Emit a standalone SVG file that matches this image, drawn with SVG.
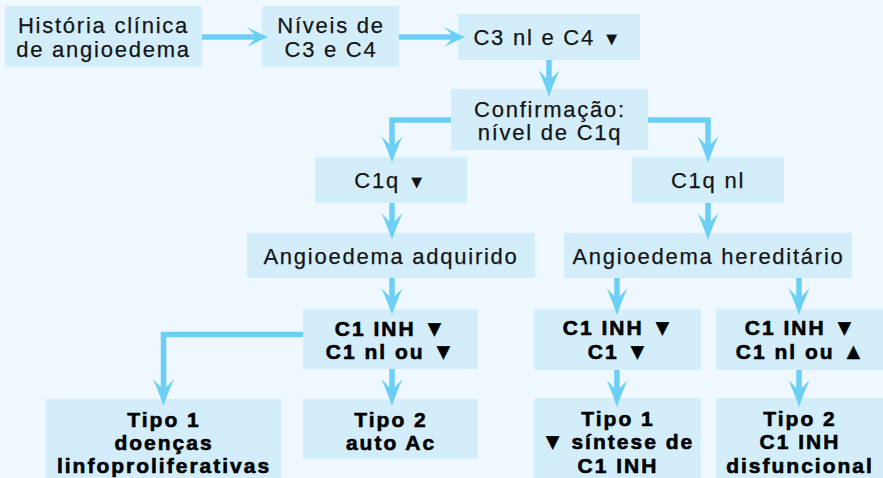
<svg xmlns="http://www.w3.org/2000/svg" width="883" height="478" viewBox="0 0 883 478">
<style>
.bg{fill:#EEF8FE}
.box{fill:#D3EEFA}
.t{font-family:"Liberation Sans",Arial,sans-serif;font-size:22px;letter-spacing:1.75px;fill:#141414;text-anchor:middle;stroke:#141414;stroke-width:0.25px}
.b{font-family:"Liberation Sans",Arial,sans-serif;font-size:21px;font-weight:bold;letter-spacing:2px;fill:#000;text-anchor:middle;stroke:#000;stroke-width:0.6px}
.tr{font-size:18px;letter-spacing:0}
.trb{font-size:22px;letter-spacing:0}
.c{fill:none;stroke:#6CCFF6;stroke-width:5.5;stroke-linejoin:miter}
.cv{marker-end:url(#av)}
.ch{marker-end:url(#ah)}
</style>
<defs>
<marker id="av" markerUnits="userSpaceOnUse" viewBox="-28 -12 30 24" markerWidth="30" markerHeight="24" refX="-18" refY="0" orient="auto" overflow="visible">
<path d="M0,0 Q-12,-4 -27,-10.5 Q-21,-5 -19,-2.75 L-19,2.75 Q-21,5 -27,10.5 Q-12,4 0,0 Z" fill="#6CCFF6"/>
</marker>
<marker id="ah" markerUnits="userSpaceOnUse" viewBox="-22 -12 24 24" markerWidth="24" markerHeight="24" refX="-13" refY="0" orient="auto" overflow="visible">
<path d="M0,0 Q-9,-4 -21,-10 Q-16,-5 -14,-2.75 L-14,2.75 Q-16,5 -21,10 Q-9,4 0,0 Z" fill="#6CCFF6"/>
</marker>
</defs>
<rect class="bg" x="0" y="0" width="883" height="478"/>

<g id="n1"><rect class="box" x="5" y="6" width="197" height="61"/>
<text class="t" x="103.5" y="33">História clínica</text><text class="t" x="103.5" y="57">de angioedema</text></g>
<g id="n2"><rect class="box" x="262" y="6" width="137" height="61"/>
<text class="t" x="331" y="33">Níveis de</text><text class="t" x="331" y="57">C3 e C4</text></g>
<g id="n3"><rect class="box" x="458" y="14" width="182" height="46"/>
<text class="t" x="547" y="45">C3 nl e C4 <tspan class="tr">▼</tspan></text></g>
<g id="n4"><rect class="box" x="451" y="89" width="197" height="61"/>
<text class="t" x="550" y="117">Confirmação:</text><text class="t" x="550" y="140">nível de C1q</text></g>
<g id="n5"><rect class="box" x="315" y="157" width="152" height="46"/>
<text class="t" x="390" y="188">C1q <tspan class="tr">▼</tspan></text></g>
<g id="n6"><rect class="box" x="632" y="157" width="152" height="46"/>
<text class="t" x="708" y="188">C1q nl</text></g>
<g id="n7"><rect class="box" x="247" y="233" width="288" height="45"/>
<text class="t" x="391" y="264">Angioedema adquirido</text></g>
<g id="n8"><rect class="box" x="564" y="233" width="288" height="45"/>
<text class="t" x="708.5" y="264">Angioedema hereditário</text></g>
<g id="n9"><rect class="box" x="303" y="309" width="175" height="60"/>
<text class="b" x="390" y="336">C1 INH <tspan class="trb">▼</tspan></text><text class="b" x="390" y="359">C1 nl ou <tspan class="trb">▼</tspan></text></g>
<g id="n10"><rect class="box" x="46" y="399" width="235" height="79"/>
<text class="b" x="164" y="427">Tipo 1</text><text class="b" x="164" y="450">doenças</text><text class="b" x="164" y="473">linfoproliferativas</text></g>
<g id="n11"><rect class="box" x="303" y="399" width="175" height="60"/>
<text class="b" x="391" y="427">Tipo 2</text><text class="b" x="391" y="450">auto Ac</text></g>
<g id="n12"><rect class="box" x="534" y="309" width="167" height="61"/>
<text class="b" x="618" y="335">C1 INH <tspan class="trb">▼</tspan></text><text class="b" x="618" y="359">C1 <tspan class="trb">▼</tspan></text></g>
<g id="n13"><rect class="box" x="716" y="309" width="167" height="61"/>
<text class="b" x="800" y="335">C1 INH <tspan class="trb">▼</tspan></text><text class="b" x="800" y="359">C1 nl ou <tspan class="trb">▲</tspan></text></g>
<g id="n14"><rect class="box" x="534" y="398" width="167" height="80"/>
<text class="b" x="618" y="426">Tipo 1</text><text class="b" x="618" y="449"><tspan class="trb">▼</tspan> síntese de</text><text class="b" x="618" y="473">C1 INH</text></g>
<g id="n15"><rect class="box" x="716" y="398" width="167" height="80"/>
<text class="b" x="800" y="426">Tipo 2</text><text class="b" x="800" y="449">C1 INH</text><text class="b" x="800" y="473">disfuncional</text></g>

<g id="connectors">
<path class="c ch" d="M202,37 H255"/>
<path class="c ch" d="M399,37 H452"/>
<path class="c cv" d="M549,60 V79"/>
<path class="c cv" d="M451,120 H392 V145"/>
<path class="c cv" d="M648,120 H708 V145"/>
<path class="c cv" d="M392,203 V222"/>
<path class="c cv" d="M708,203 V222"/>
<path class="c cv" d="M392,278 V297"/>
<path class="c cv" d="M617,278 V297"/>
<path class="c cv" d="M799,278 V297"/>
<path class="c cv" d="M303,334.5 H163.5 V388"/>
<path class="c cv" d="M392,369 V388"/>
<path class="c cv" d="M617,370 V389"/>
<path class="c cv" d="M799,370 V389"/>
</g>
</svg>
